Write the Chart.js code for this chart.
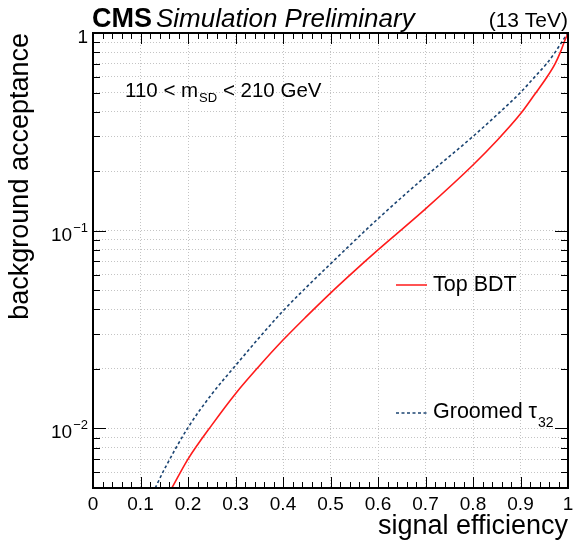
<!DOCTYPE html>
<html>
<head>
<meta charset="utf-8">
<script src="https://cdn.jsdelivr.net/npm/chart.js@4.4.0/dist/chart.umd.min.js"></script>
<style>
  html, body { margin: 0; padding: 0; background: #fff; }
  #wrap { width: 584px; height: 547px; }
</style>
</head>
<body>
<div id="wrap"><canvas id="chart" width="584" height="547"></canvas></div>
<script>
// ROC curves (signal efficiency vs background acceptance)
const bdtEff = [0.166, 0.200, 0.250, 0.300, 0.350, 0.400, 0.450, 0.500, 0.550, 0.600, 0.700, 0.800, 0.850, 0.900, 0.930, 0.954, 0.973, 0.984, 0.992, 1.000];
const bdtBkg = [0.005, 0.0070, 0.0104, 0.0150, 0.0207, 0.0280, 0.0370, 0.0484, 0.0625, 0.0800, 0.129, 0.215, 0.285, 0.390, 0.490, 0.590, 0.700, 0.800, 0.900, 1.000];

const tauEff = [0.131, 0.150, 0.200, 0.250, 0.300, 0.350, 0.400, 0.450, 0.500, 0.600, 0.700, 0.800, 0.850, 0.900, 0.930, 0.955, 0.973, 0.987, 1.000];
const tauBkg = [0.005, 0.0062, 0.0101, 0.0149, 0.0208, 0.0288, 0.0393, 0.0520, 0.0680, 0.115, 0.188, 0.300, 0.385, 0.500, 0.600, 0.700, 0.800, 0.900, 1.000];

// axis ticks
const xMajor = [0, 0.1, 0.2, 0.3, 0.4, 0.5, 0.6, 0.7, 0.8, 0.9, 1];
const xLabels = ['0', '0.1', '0.2', '0.3', '0.4', '0.5', '0.6', '0.7', '0.8', '0.9', '1'];
const yDecades = [0.01, 0.1, 1];
const yDecadeLabels = [['10', '\u22122'], ['10', '\u22121'], ['1', '']];
const yMinor = [0.005, 0.006, 0.007, 0.008, 0.009,
                0.02, 0.03, 0.04, 0.05, 0.06, 0.07, 0.08, 0.09,
                0.2, 0.3, 0.4, 0.5, 0.6, 0.7, 0.8, 0.9];

const RED = '#ff1a1a';
const BLUE = '#1b4472';
const FONT = '"Liberation Sans", Arial, Helvetica, sans-serif';

function toPoints(xs, ys) {
    return xs.map((x, i) => ({ x: x, y: ys[i] }));
}

// Draw text with a raised (sup) or lowered (sub) part, returns width
function drawScripted(ctx, x, y, main, script, mainSize, scriptSize, shift, align) {
    ctx.font = mainSize + 'px ' + FONT;
    const w1 = ctx.measureText(main).width;
    ctx.font = scriptSize + 'px ' + FONT;
    const w2 = script ? ctx.measureText(script).width + 1 : 0;
    let x0 = align === 'right' ? x - w1 - w2 : x;
    ctx.textAlign = 'left';
    ctx.font = mainSize + 'px ' + FONT;
    ctx.fillText(main, x0, y);
    if (script) {
        ctx.font = scriptSize + 'px ' + FONT;
        ctx.fillText(script, x0 + w1 + 1, y + shift);
    }
    return w1 + w2;
}

// ROOT-style frame, inner ticks, labels and annotations
const cmsDecorations = {
    id: 'cmsDecorations',
    afterDraw(chart) {
        const ctx = chart.ctx;
        const a = chart.chartArea;
        const xs = chart.scales.x;
        const ys = chart.scales.y;
        ctx.save();
        ctx.fillStyle = '#000';
        ctx.strokeStyle = '#000';
        ctx.textBaseline = 'alphabetic';

        // ticks
        ctx.lineWidth = 1;
        ctx.beginPath();
        for (let i = 0; i <= 50; i++) {
            const v = i / 50;
            const px = Math.round(xs.getPixelForValue(v)) + 0.5;
            const len = i % 5 === 0 ? 11 : 6;
            ctx.moveTo(px, a.bottom); ctx.lineTo(px, a.bottom - len);
            ctx.moveTo(px, a.top); ctx.lineTo(px, a.top + len);
        }
        yDecades.concat(yMinor).forEach(v => {
            const py = Math.round(ys.getPixelForValue(v)) + 0.5;
            const len = yDecades.includes(v) ? 13 : 7;
            ctx.moveTo(a.left, py); ctx.lineTo(a.left + len, py);
            ctx.moveTo(a.right, py); ctx.lineTo(a.right - len, py);
        });
        ctx.stroke();

        // frame
        ctx.lineWidth = 2;
        ctx.strokeRect(a.left, a.top, a.right - a.left, a.bottom - a.top);

        // x tick labels
        ctx.font = '19px ' + FONT;
        ctx.textAlign = 'center';
        xMajor.forEach((v, i) => {
            ctx.fillText(xLabels[i], xs.getPixelForValue(v), a.bottom + 22);
        });

        // y tick labels
        yDecades.forEach((v, i) => {
            const py = ys.getPixelForValue(v);
            drawScripted(ctx, a.left - 5, py + 10, yDecadeLabels[i][0], yDecadeLabels[i][1], 19, 13, -9, 'right');
        });

        // axis titles
        ctx.font = '27px ' + FONT;
        ctx.textAlign = 'right';
        ctx.fillText('signal efficiency', a.right, 534);
        ctx.save();
        ctx.translate(28, a.top);
        ctx.rotate(-Math.PI / 2);
        ctx.textAlign = 'right';
        ctx.fillText('background acceptance', 0, 0);
        ctx.restore();

        // header
        ctx.textAlign = 'left';
        ctx.font = 'bold 27px ' + FONT;
        ctx.fillText('CMS', a.left - 1, 27);
        const cmsW = ctx.measureText('CMS').width;
        ctx.font = 'italic 26px ' + FONT;
        ctx.fillText('Simulation Preliminary', a.left + cmsW + 3, 27);
        ctx.font = '21px ' + FONT;
        ctx.textAlign = 'right';
        ctx.fillText('(13 TeV)', a.right, 27);

        // mass window label
        ctx.textAlign = 'left';
        let tx = 125;
        tx += drawScripted(ctx, tx, 97, '110 < m', 'SD', 20.5, 13, 5, 'left');
        ctx.font = '20.5px ' + FONT;
        ctx.fillText(' < 210 GeV', tx, 97);

        // legend
        ctx.lineWidth = 1.5;
        ctx.strokeStyle = RED;
        ctx.beginPath();
        ctx.moveTo(396, 285); ctx.lineTo(427, 285);
        ctx.stroke();
        ctx.font = '21.5px ' + FONT;
        ctx.fillStyle = '#000';
        ctx.fillText('Top BDT', 433, 291);

        ctx.strokeStyle = BLUE;
        ctx.setLineDash([3, 2.5]);
        ctx.beginPath();
        ctx.moveTo(396, 413); ctx.lineTo(427, 413);
        ctx.stroke();
        ctx.setLineDash([]);
        ctx.font = '21.5px ' + FONT;
        ctx.fillText('Groomed \u03c4', 433, 418);
        const gw = ctx.measureText('Groomed \u03c4').width;
        ctx.font = '14px ' + FONT;
        ctx.fillText('32', 433 + gw + 1, 427);

        ctx.restore();
    }
};

const ctx = document.getElementById('chart').getContext('2d');
const chart = new Chart(ctx, {
    type: 'scatter',
    data: {
        datasets: [
            {
                label: 'Top BDT',
                data: toPoints(bdtEff, bdtBkg),
                showLine: true,
                borderColor: RED,
                borderWidth: 1.6,
                pointRadius: 0,
                cubicInterpolationMode: 'monotone'
            },
            {
                label: 'Groomed tau32',
                data: toPoints(tauEff, tauBkg),
                showLine: true,
                borderColor: BLUE,
                borderWidth: 1.6,
                borderDash: [3, 2.5],
                pointRadius: 0,
                cubicInterpolationMode: 'monotone'
            }
        ]
    },
    options: {
        responsive: false,
        animation: false,
        devicePixelRatio: 1,
        layout: { padding: { left: 93, right: 16, top: 33, bottom: 59 } },
        plugins: {
            legend: { display: false },
            tooltip: { enabled: false }
        },
        scales: {
            x: {
                type: 'linear',
                min: 0,
                max: 1,
                afterBuildTicks: scale => { scale.ticks = xMajor.map(v => ({ value: v })); },
                ticks: { display: false },
                grid: { color: '#c4c4c4', lineWidth: 1, drawTicks: false },
                border: { display: false, dash: [1, 2] }
            },
            y: {
                type: 'logarithmic',
                min: 0.005,
                max: 1,
                afterBuildTicks: scale => {
                    scale.ticks = yDecades.concat(yMinor).sort((p, q) => p - q).map(v => ({ value: v }));
                },
                ticks: { display: false },
                grid: { color: '#c4c4c4', lineWidth: 1, drawTicks: false },
                border: { display: false, dash: [1, 2] }
            }
        }
    },
    plugins: [cmsDecorations]
});
</script>
</body>
</html>
